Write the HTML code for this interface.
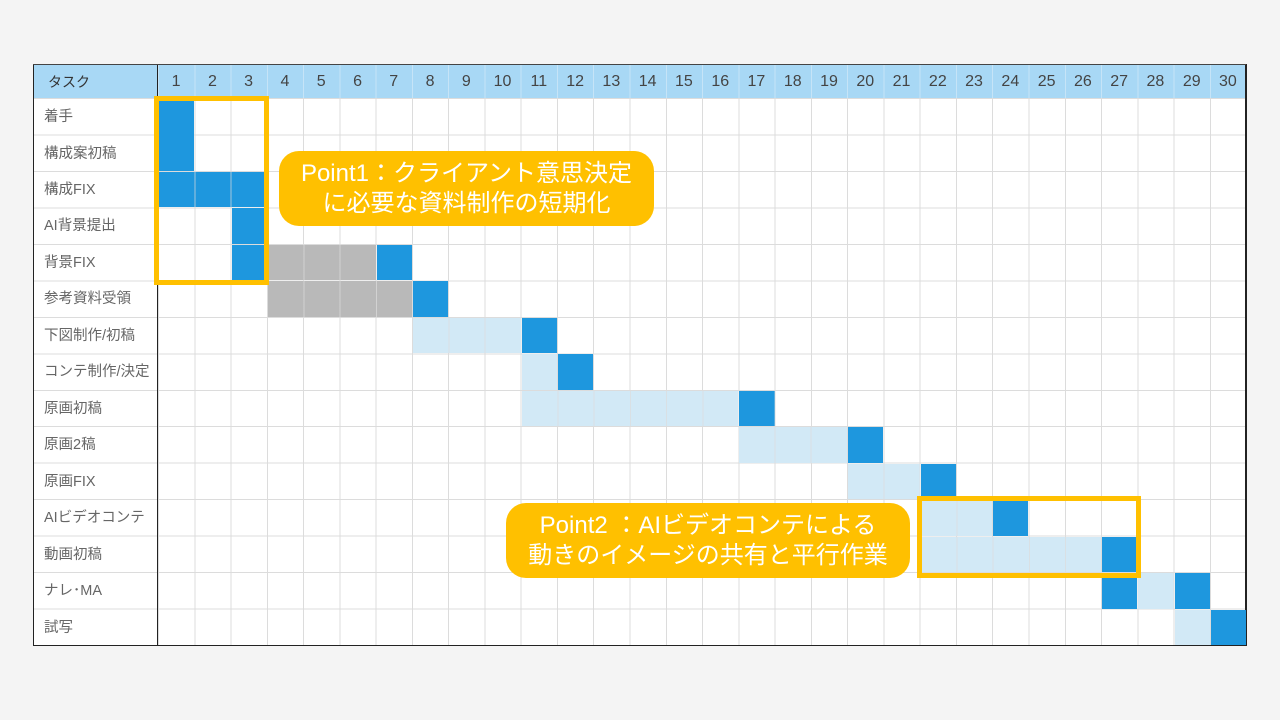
<!DOCTYPE html>
<html><head><meta charset="utf-8"><style>
body{margin:0;width:1280px;height:720px;background:#f4f4f4;position:relative;overflow:hidden;font-family:"Liberation Sans","Noto Sans CJK JP",sans-serif}
.tbl{position:absolute;left:33px;top:64px;width:1213px;height:581px;background:#fff}
.hdr{position:absolute;left:33px;top:64px;width:1213px;height:34px;background:#a8d8f5;border-bottom:1px solid #222}
.grid{position:absolute;left:158px;top:98px;width:1088px;height:547px;
background-image:repeating-linear-gradient(to right,#dcdcdc 0 1px,transparent 1px 36.27px),repeating-linear-gradient(to bottom,#dcdcdc 0 1px,transparent 1px 36.47px)}
.lgrid{position:absolute;left:33px;top:98px;width:125px;height:547px;background-image:repeating-linear-gradient(to bottom,#dcdcdc 0 1px,transparent 1px 36.47px)}
.hgrid{position:absolute;left:158px;top:64px;width:1088px;height:34px;background-image:repeating-linear-gradient(to right,#c6e4f7 0 1px,transparent 1px 36.27px)}
.c{position:absolute;left:calc(158px + (var(--c) - 1)*36.27px + 1px);top:calc(98px + var(--r)*36.47px + 1px);width:calc(var(--n,1)*36.27px - 1px);height:35.5px}
.d{background:#1e97de}.l{background:#d2e9f6}.g{background:#b9b9b9}
.c::after{content:"";position:absolute;inset:0;background-image:repeating-linear-gradient(to right,transparent 0 35.27px,rgba(220,220,220,.7) 35.27px 36.27px)}
.num{position:absolute;top:64px;height:34px;line-height:36px;width:36.27px;text-align:center;font-size:16px;color:#444}
.lab{position:absolute;left:44px;font-size:14.5px;color:#666;height:36px;line-height:38px}
.box{position:absolute;border:5px solid #ffc000;box-sizing:border-box}
.call{position:absolute;background:#ffc000;color:#fff;border-radius:20px;text-align:center;font-size:24px;line-height:30px;box-sizing:border-box}
</style></head><body>
<div class="tbl"></div>
<div class="hdr"></div>
<div class="hgrid"></div>
<div class="grid"></div>
<div class="lgrid"></div>
<div style="position:absolute;left:33px;top:64px;width:1px;height:582px;background:#222"></div>
<div style="position:absolute;left:157px;top:64px;width:1px;height:582px;background:#222"></div>
<div style="position:absolute;left:1245px;top:64px;width:1.5px;height:582px;background:#222"></div>
<div style="position:absolute;left:33px;top:645px;width:1214px;height:1px;background:#222"></div>
<div style="position:absolute;left:33px;top:64px;width:1213px;height:1px;background:#444"></div>
<div style="position:absolute;left:48px;top:64px;height:34px;line-height:36px;font-size:14px;color:#333">タスク</div>
<div class="num" style="left:158px">1</div><div class="num" style="left:194.3px">2</div><div class="num" style="left:230.5px">3</div><div class="num" style="left:266.8px">4</div><div class="num" style="left:303.1px">5</div><div class="num" style="left:339.4px">6</div><div class="num" style="left:375.6px">7</div><div class="num" style="left:411.9px">8</div><div class="num" style="left:448.2px">9</div><div class="num" style="left:484.4px">10</div><div class="num" style="left:520.7px">11</div><div class="num" style="left:557px">12</div><div class="num" style="left:593.2px">13</div><div class="num" style="left:629.5px">14</div><div class="num" style="left:665.8px">15</div><div class="num" style="left:702.1px">16</div><div class="num" style="left:738.3px">17</div><div class="num" style="left:774.6px">18</div><div class="num" style="left:810.9px">19</div><div class="num" style="left:847.1px">20</div><div class="num" style="left:883.4px">21</div><div class="num" style="left:919.7px">22</div><div class="num" style="left:955.9px">23</div><div class="num" style="left:992.2px">24</div><div class="num" style="left:1028.5px">25</div><div class="num" style="left:1064.8px">26</div><div class="num" style="left:1101px">27</div><div class="num" style="left:1137.3px">28</div><div class="num" style="left:1173.6px">29</div><div class="num" style="left:1209.8px">30</div>
<div class="lab" style="top:98px">着手</div>
<div class="lab" style="top:134.5px">構成案初稿</div>
<div class="lab" style="top:170.9px">構成FIX</div>
<div class="lab" style="top:207.4px">AI背景提出</div>
<div class="lab" style="top:243.9px">背景FIX</div>
<div class="lab" style="top:280.4px">参考資料受領</div>
<div class="lab" style="top:316.8px">下図制作/初稿</div>
<div class="lab" style="top:353.3px">コンテ制作/決定</div>
<div class="lab" style="top:389.8px">原画初稿</div>
<div class="lab" style="top:426.2px">原画2稿</div>
<div class="lab" style="top:462.7px">原画FIX</div>
<div class="lab" style="top:499.2px">AIビデオコンテ</div>
<div class="lab" style="top:535.6px">動画初稿</div>
<div class="lab" style="top:572.1px">ナレ･MA</div>
<div class="lab" style="top:608.6px">試写</div>

<div class="c d" style="--c:1;--r:0"></div>
<div class="c d" style="--c:1;--r:1"></div>
<div class="c d" style="--c:1;--r:2;--n:3"></div>
<div class="c d" style="--c:3;--r:3"></div>
<div class="c d" style="--c:3;--r:4"></div>
<div class="c g" style="--c:4;--r:4;--n:3"></div>
<div class="c d" style="--c:7;--r:4"></div>
<div class="c g" style="--c:4;--r:5;--n:4"></div>
<div class="c d" style="--c:8;--r:5"></div>
<div class="c l" style="--c:8;--r:6;--n:3"></div>
<div class="c d" style="--c:11;--r:6"></div>
<div class="c l" style="--c:11;--r:7"></div>
<div class="c d" style="--c:12;--r:7"></div>
<div class="c l" style="--c:11;--r:8;--n:6"></div>
<div class="c d" style="--c:17;--r:8"></div>
<div class="c l" style="--c:17;--r:9;--n:3"></div>
<div class="c d" style="--c:20;--r:9"></div>
<div class="c l" style="--c:20;--r:10;--n:2"></div>
<div class="c d" style="--c:22;--r:10"></div>
<div class="c l" style="--c:22;--r:11;--n:2"></div>
<div class="c d" style="--c:24;--r:11"></div>
<div class="c l" style="--c:22;--r:12;--n:5"></div>
<div class="c d" style="--c:27;--r:12"></div>
<div class="c d" style="--c:27;--r:13"></div>
<div class="c l" style="--c:28;--r:13"></div>
<div class="c d" style="--c:29;--r:13"></div>
<div class="c l" style="--c:29;--r:14"></div>
<div class="c d" style="--c:30;--r:14"></div>

<div class="box" style="left:154px;top:96px;width:115px;height:189px"></div>
<div class="box" style="left:917px;top:496px;width:224px;height:82px"></div>
<div class="call" style="left:279px;top:151px;width:375px;height:75px;padding-top:8px">Point1：クライアント意思決定<br>に必要な資料制作の短期化</div>
<div class="call" style="left:506px;top:503px;width:404px;height:75px;padding-top:8px">Point2 ：AIビデオコンテによる<br>動きのイメージの共有と平行作業</div>
</body></html>
